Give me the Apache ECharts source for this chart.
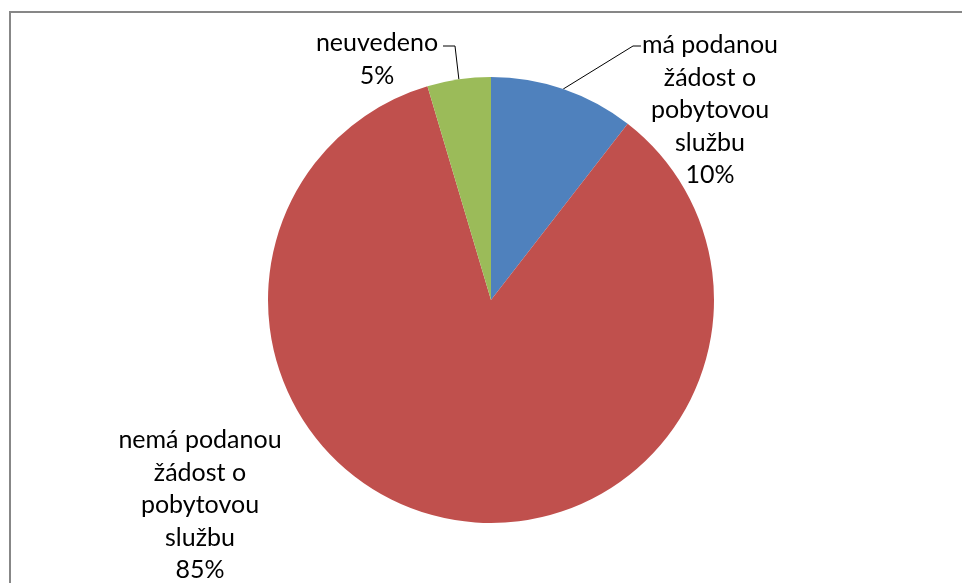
<!DOCTYPE html>
<html><head><meta charset="utf-8">
<script src="https://cdn.jsdelivr.net/npm/echarts@6/dist/echarts.min.js"></script>
<style>html,body{margin:0;padding:0;background:#fff}#c{width:962px;height:583px}</style>
</head><body><div id="c"></div>
<script>
const categories = ['má podanou\nžádost o\npobytovou\nslužbu', 'nemá podanou\nžádost o\npobytovou\nslužbu', 'neuvedeno'];
const values = [10.5, 84.9, 4.6];
const colors = ['#4F81BD', '#C0504D', '#9BBB59'];

const chart = echarts.init(document.getElementById('c'));
const FONT = 'Lato';
const FS = 25, LH = 32.5;
// label anchor positions (text block centre x, top y) and leader elbows
const labelPos = [
  {x: 710, y: 29, elbow: [[633, 46], [641, 46]]},
  {x: 200, y: 424, elbow: null},
  {x: 377, y: 27, elbow: [[455, 46], [443, 46]]}
];
chart.setOption({
  backgroundColor: '#fff',
  animation: false,
  graphic: [{
    type: 'rect', shape: {x: 10, y: 12, width: 1000, height: 620},
    style: {fill: 'none', stroke: '#878787', lineWidth: 2}, silent: true
  }],
  series: [{
    type: 'pie',
    center: [491, 300],
    radius: 223,
    startAngle: 90,
    clockwise: true,
    percentPrecision: 0,
    itemStyle: {borderWidth: 0},
    label: {
      show: true, position: 'outside',
      formatter: '{b}\n{d}%',
      fontFamily: FONT, fontSize: FS, lineHeight: LH, color: '#000', align: 'center'
    },
    labelLine: {show: true, length: 10, length2: 10, lineStyle: {color: '#000', width: 1}},
    data: categories.map((n, i) => ({
      name: n, value: values[i], itemStyle: {color: colors[i]},
      labelLine: {show: i !== 1}
    })),
    labelLayout: function (p) {
      const lp = labelPos[p.dataIndex];
      const res = {x: lp.x, y: lp.y, align: 'center', verticalAlign: 'top', hideOverlap: false};
      if (lp.elbow && p.labelLinePoints) {
        res.labelLinePoints = [p.labelLinePoints[0], lp.elbow[0], lp.elbow[1]];
      }
      return res;
    }
  }]
});
</script></body></html>
